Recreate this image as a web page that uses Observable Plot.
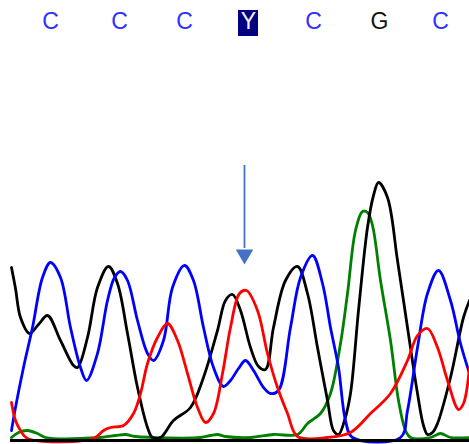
<!DOCTYPE html>
<html>
<head>
<meta charset="utf-8">
<script src="https://cdn.jsdelivr.net/npm/d3@7"></script>
<script src="https://cdn.jsdelivr.net/npm/@observablehq/plot@0.6"></script>
<style>
  html, body { margin: 0; padding: 0; background: #fff; }
  #chart svg { display: block; }
</style>
</head>
<body>
<div id="chart"></div>
<script>
// Base calls (scan position, called base)
const basePositions = [50, 119, 184, 248, 313, 379, 440];
const baseLabels = ["C", "C", "C", "Y", "C", "G", "C"];
const variantPosition = 244;

// Trace channels: [scan position, signal intensity]
const traceG = [[11,3],[18,8],[27,10],[37,7],[45,3],[100,3],[115,5],[125,6],[135,4],[200,3],[210,5],[217,6],[225,4],[250,3],[273,6],[297,6],[307,17],[320,27],[330,47],[340,97],[347,147],[355,210],[362,229],[367,228],[372,215],[380,160],[390,100],[398,40],[405,10],[410,3],[430,3],[440,7],[450,3],[469,3]];
const traceA = [[11,173],[15,152],[20,123],[29,107],[38,116],[47,125],[60,100],[73,75],[77,73],[87,103],[97,153],[108,174],[117,157],[127,107],[137,53],[147,13],[152,3],[160,3],[173,20],[190,33],[203,63],[217,110],[225,140],[232,146],[240,130],[250,93],[258,74],[265,71],[273,113],[285,160],[297,174],[307,147],[317,93],[327,40],[333,10],[338,6],[344,20],[350,47],[358,130],[367,213],[373,245],[378,258],[387,243],[397,180],[407,113],[417,47],[423,15],[427,6],[432,8],[437,17],[450,63],[463,123],[469,140]];
const traceC = [[11,10],[15,33],[23,73],[32,113],[42,163],[50,178],[60,163],[70,113],[80,73],[86,60],[97,87],[107,140],[114,163],[120,169],[127,160],[137,120],[147,87],[153,80],[163,100],[172,153],[184,175],[193,160],[203,113],[213,73],[223,54],[230,60],[238,72],[245,80],[253,70],[263,53],[270,47],[278,50],[290,113],[300,163],[312,185],[322,157],[330,113],[338,73],[345,20],[352,3],[400,3],[407,30],[417,93],[427,147],[438,170],[450,140],[460,97],[469,67]];
const traceT = [[11,38],[15,20],[20,10],[27,2],[93,2],[103,10],[110,13],[123,15],[133,27],[140,47],[147,77],[157,103],[167,117],[177,100],[187,67],[197,33],[205,18],[213,27],[222,67],[230,113],[239,147],[246,150],[257,130],[267,87],[277,53],[287,27],[297,4],[327,3],[350,8],[370,27],[390,47],[407,80],[417,105],[427,112],[437,93],[447,60],[458,31],[463,37],[469,73]];

const toRows = (arr) => arr.map(([x, y]) => ({x, y}));
const calls = basePositions.map((x, i) => ({x, base: baseLabels[i]}));
const baseColor = {C: "#3030ff", G: "#111111", Y: "#f2f2f2"};

const traceStyle = {x: "x", y: "y", strokeWidth: 2.8, curve: "catmull-rom", strokeLinejoin: "round"};

const chart = Plot.plot({
  width: 469,
  height: 444,
  marginLeft: 10,
  marginRight: 0,
  marginTop: 0,
  marginBottom: 4,
  x: {domain: [10, 469], axis: null},
  y: {domain: [0, 440], axis: null},
  marks: [
    Plot.line(toRows(traceG), {...traceStyle, stroke: "#008000"}),
    Plot.line(toRows(traceA), {...traceStyle, stroke: "#000000"}),
    Plot.line(toRows(traceC), {...traceStyle, stroke: "#0000ff"}),
    Plot.line(toRows(traceT), {...traceStyle, stroke: "#ff0000"}),
    Plot.ruleY([0], {stroke: "#000", strokeWidth: 3}),
    // highlighted ambiguous call box
    Plot.rect(calls.filter(d => d.base === "Y"), {
      x1: d => d.x - 10, x2: d => d.x + 10, y1: 404, y2: 430, fill: "#000080"
    }),
    Plot.text(calls, {
      x: "x", y: 419, text: "base", fill: d => baseColor[d.base],
      fontSize: 23, fontFamily: "Liberation Sans, Arial, sans-serif", lineAnchor: "middle"
    }),
    // arrow marking the variant position
    Plot.ruleX([variantPosition], {y1: 275, y2: 192, stroke: "#4472C4", strokeWidth: 1.8}),
    Plot.dot([variantPosition], {
      x: d => d, y: 186, symbol: "triangle", rotate: 180, r: 6.5,
      fill: "#4472C4", stroke: "none"
    })
  ]
});
document.getElementById("chart").append(chart);
</script>
</body>
</html>
